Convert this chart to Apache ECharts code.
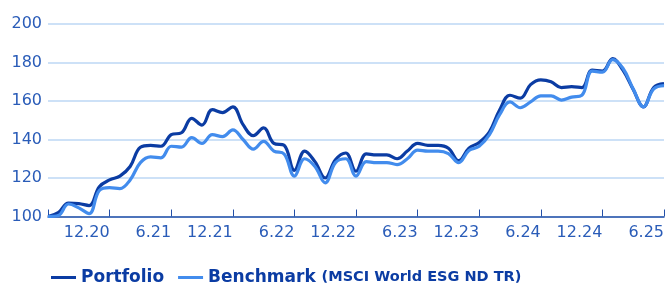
<!DOCTYPE html>
<html>
<head>
<meta charset="utf-8">
<script src="https://cdn.jsdelivr.net/npm/echarts@6/dist/echarts.min.js"></script>
<style>
  html, body { margin: 0; padding: 0; background: #fff; }
  #chart { width: 667px; height: 284px; }
</style>
</head>
<body>
<div id="chart"></div>
<script>
// monthly points, 6.20 .. 6.25
const months = [
  '6.20', '7.20', '8.20', '9.20', '10.20', '11.20', '12.20',
  '1.21', '2.21', '3.21', '4.21', '5.21', '6.21', '7.21', '8.21', '9.21', '10.21', '11.21', '12.21',
  '1.22', '2.22', '3.22', '4.22', '5.22', '6.22', '7.22', '8.22', '9.22', '10.22', '11.22', '12.22',
  '1.23', '2.23', '3.23', '4.23', '5.23', '6.23', '7.23', '8.23', '9.23', '10.23', '11.23', '12.23',
  '1.24', '2.24', '3.24', '4.24', '5.24', '6.24', '7.24', '8.24', '9.24', '10.24', '11.24', '12.24',
  '1.25', '2.25', '3.25', '4.25', '5.25', '6.25',
];

const portfolio = [
  100, 102, 107, 106.7, 105.7, 115.5, 119, 121, 126, 136, 137, 136.5, 142.5, 143.5, 151, 147.5, 155.5,
  154, 157, 147.7, 142, 146, 138, 137, 124, 134, 128.5, 120, 129.5, 133, 123.5, 132.5, 132, 132, 130, 134, 138, 137,
  137, 135.5, 129, 135.5, 138.5, 144, 155.5, 163, 161.5, 168.5, 171, 170, 167, 167.5, 167, 176, 175.5, 182, 176, 166, 157, 167, 169,
];

const benchmark = [
  100, 100.5, 106.5, 104.5, 101.5, 113.5, 115, 114.5, 119, 128, 131, 130.5, 136.5, 136, 141, 138, 142.5,
  141.5, 145, 140, 135, 139, 134, 132.5, 121, 130, 126, 117.5, 128, 130, 121, 128.5, 128, 128, 127, 130, 134.5, 134,
  134, 132.7, 128, 134.3, 136.5, 142.5, 153, 159.5, 156.5, 159.5, 162.7, 162.7, 160.5, 162, 163, 175.5, 175, 181.5, 177, 166.3, 157, 166.3, 168,
];

const textBlue = '#2a5cb8';
const darkBlue = '#0b3ca3';
const lightBlue = '#428ced';

const chart = echarts.init(document.getElementById('chart'), null, { renderer: 'canvas' });

chart.setOption({
  animation: false,
  textStyle: { fontFamily: 'DejaVu Sans' },
  grid: { left: 48, right: 1, top: 24, bottom: 67.5 },
  legend: {
    left: 46, top: 264,
    itemWidth: 25, itemHeight: 3, itemGap: 14,
    icon: 'rect',
    textStyle: {
      color: darkBlue, fontWeight: 'bold', fontSize: 17, fontFamily: 'DejaVu Sans',
      rich: {
        a: { color: darkBlue, fontWeight: 'bold', fontSize: 17, fontFamily: 'DejaVu Sans' },
        b: { color: darkBlue, fontWeight: 'bold', fontSize: 14.5, fontFamily: 'DejaVu Sans' },
      },
    },
    formatter: (name) => name === 'Benchmark' ? '{a|Benchmark} {b|(MSCI World ESG ND TR)}' : name,
    data: ['Portfolio', 'Benchmark'],
  },
  xAxis: {
    type: 'category',
    data: months,
    boundaryGap: false,
    axisLine: { lineStyle: { color: '#2350a8', width: 1.5 } },
    axisTick: {
      inside: true, length: 7,
      interval: (i) => i % 6 === 0,
      lineStyle: { color: '#2350a8', width: 1 },
    },
    axisLabel: {
      interval: (i) => i > 0 && i % 6 === 0,
      align: 'right', margin: 8,
      color: textBlue, fontSize: 16, fontFamily: 'DejaVu Sans',
    },
    splitLine: { show: false },
  },
  yAxis: {
    type: 'value',
    min: 100, max: 200, interval: 20,
    axisLine: { show: false },
    axisTick: { show: false },
    axisLabel: { margin: 6, color: textBlue, fontSize: 16, fontFamily: 'DejaVu Sans' },
    splitLine: { lineStyle: { color: '#bcd7f5', width: 1.5 } },
  },
  series: [
    {
      name: 'Portfolio', type: 'line', data: portfolio,
      smooth: 0.4, symbol: 'none',
      lineStyle: { color: darkBlue, width: 3.2 },
      itemStyle: { color: darkBlue },
    },
    {
      name: 'Benchmark', type: 'line', data: benchmark,
      smooth: 0.4, symbol: 'none',
      lineStyle: { color: lightBlue, width: 3.2 },
      itemStyle: { color: lightBlue },
    },
  ],
});
</script>
</body>
</html>
